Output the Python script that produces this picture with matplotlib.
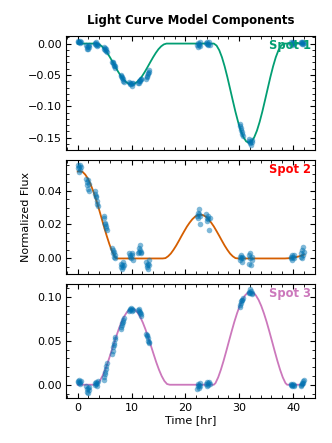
import numpy as np
import matplotlib.pyplot as plt
from matplotlib.ticker import AutoMinorLocator

# observation times [hr], 15 short visits of 7 samples
obs_t = [0.0, 0.1, 0.2, 0.3, 0.4, 0.5, 0.6,
         1.55, 1.65, 1.75, 1.85, 1.95, 2.05, 2.15,
         3.15, 3.25, 3.35, 3.45, 3.55, 3.65, 3.75,
         4.8, 4.9, 5.0, 5.1, 5.2, 5.3, 5.4,
         6.4, 6.5, 6.6, 6.7, 6.8, 6.9, 7.0,
         8.0, 8.1, 8.2, 8.3, 8.4, 8.5, 8.6,
         9.6, 9.7, 9.8, 9.9, 10.0, 10.1, 10.2,
         11.2, 11.3, 11.4, 11.5, 11.6, 11.7, 11.8,
         12.7, 12.8, 12.9, 13.0, 13.1, 13.2, 13.3,
         22.2, 22.3, 22.4, 22.5, 22.6, 22.7, 22.8,
         23.9, 24.0, 24.1, 24.2, 24.3, 24.4, 24.5,
         30.1, 30.2, 30.3, 30.4, 30.5, 30.6, 30.7,
         31.8, 31.9, 32.0, 32.1, 32.2, 32.3, 32.4,
         39.6, 39.7, 39.8, 39.9, 40.0, 40.1, 40.2,
         41.4, 41.5, 41.6, 41.7, 41.8, 41.9, 42.0]

obs_spot1 = [0.003, 0.004, 0.002, 0.003, 0.001, 0.004, 0.002,
             -0.003, -0.006, -0.009, -0.004, -0.008, -0.005, -0.002,
             0.001, -0.001, 0.002, -0.002, 0.000, -0.004, -0.003,
             -0.006, -0.008, -0.007, -0.010, -0.009, -0.012, -0.013,
             -0.029, -0.031, -0.030, -0.034, -0.036, -0.035, -0.039,
             -0.050, -0.052, -0.055, -0.054, -0.057, -0.059, -0.061,
             -0.061, -0.063, -0.065, -0.064, -0.067, -0.063, -0.062,
             -0.063, -0.060, -0.062, -0.058, -0.059, -0.056, -0.057,
             -0.057, -0.054, -0.052, -0.049, -0.047, -0.045, -0.042,
             -0.003, -0.006, 0.001, -0.002, 0.000, -0.004, 0.002,
             0.001, -0.001, 0.002, -0.003, 0.000, 0.002, -0.002,
             -0.128, -0.132, -0.135, -0.138, -0.141, -0.144, -0.148,
             -0.152, -0.155, -0.158, -0.157, -0.161, -0.156, -0.153,
             0.002, 0.000, 0.001, -0.002, 0.002, 0.000, 0.001,
             0.001, 0.003, -0.001, 0.002, 0.000, 0.003, 0.001]

obs_spot2 = [0.055, 0.053, 0.051, 0.054, 0.055, 0.052, 0.054,
             0.047, 0.045, 0.043, 0.046, 0.041, 0.044, 0.040,
             0.040, 0.038, 0.036, 0.037, 0.034, 0.032, 0.031,
             0.025, 0.024, 0.021, 0.020, 0.019, 0.018, 0.017,
             0.006, 0.005, 0.003, 0.004, 0.001, 0.002, 0.000,
             -0.003, -0.005, -0.006, -0.004, -0.002, -0.005, -0.004,
             0.003, 0.001, 0.002, 0.000, 0.003, 0.002, -0.001,
             0.003, 0.004, 0.006, 0.008, 0.005, 0.003, 0.004,
             -0.002, -0.004, -0.005, -0.006, -0.003, -0.004, -0.001,
             0.025, 0.027, 0.024, 0.029, 0.026, 0.020, 0.025,
             0.026, 0.024, 0.022, 0.025, 0.023, 0.017, 0.024,
             0.001, -0.001, 0.002, 0.000, -0.002, 0.001, 0.000,
             0.002, -0.003, 0.000, 0.003, -0.004, 0.001, -0.001,
             0.001, 0.000, 0.002, -0.001, 0.001, 0.002, 0.000,
             0.001, 0.003, 0.000, 0.005, 0.002, 0.007, 0.004]

obs_spot3 = [0.004, 0.003, 0.005, 0.002, 0.003, 0.001, 0.004,
             -0.002, -0.005, -0.008, -0.004, -0.009, -0.006, -0.003,
             0.000, 0.002, 0.001, 0.003, -0.001, 0.002, 0.004,
             0.005, 0.009, 0.012, 0.015, 0.018, 0.021, 0.025,
             0.035, 0.038, 0.043, 0.045, 0.048, 0.052, 0.054,
             0.064, 0.066, 0.068, 0.070, 0.072, 0.074, 0.076,
             0.084, 0.086, 0.085, 0.087, 0.086, 0.084, 0.085,
             0.085, 0.084, 0.086, 0.082, 0.083, 0.080, 0.078,
             0.058, 0.057, 0.055, 0.053, 0.050, 0.049, 0.047,
             -0.005, -0.002, 0.001, -0.004, 0.000, 0.002, -0.001,
             0.001, 0.003, -0.001, 0.002, 0.000, 0.003, 0.001,
             0.089, 0.091, 0.093, 0.095, 0.096, 0.097, 0.099,
             0.104, 0.106, 0.109, 0.105, 0.107, 0.104, 0.103,
             0.000, 0.001, -0.001, 0.000, 0.001, -0.002, 0.000,
             0.000, -0.001, 0.002, 0.001, 0.004, 0.002, 0.005]

# model curves
model1_t = [0.0, 3.5, 4.0, 4.5, 5.0, 5.5, 6.0, 6.5, 7.0, 7.5, 8.0, 8.5, 9.0, 9.5,
            10.0, 10.5, 11.0, 11.5, 12.0, 12.5, 13.0, 13.5, 14.0, 14.5, 15.0,
            15.5, 16.0, 16.5,
            25.3, 25.8, 26.3, 26.8, 27.3, 27.8, 28.3, 28.8, 29.3, 29.8, 30.3,
            30.8, 31.3, 31.8, 32.3, 32.8, 33.3, 33.8, 34.3, 34.8, 35.3, 35.8,
            36.3, 36.8, 37.3, 37.8, 38.3, 42.0]
model1_f = [0.0, 0.0, -0.0013, -0.0044, -0.0090, -0.0150, -0.0219, -0.0294,
            -0.0371, -0.0446, -0.0514, -0.0571, -0.0614, -0.0641, -0.0650,
            -0.0641, -0.0614, -0.0571, -0.0514, -0.0446, -0.0371, -0.0294,
            -0.0219, -0.0150, -0.0090, -0.0044, -0.0013, 0.0,
            0.0, -0.0032, -0.0106, -0.0218, -0.0363, -0.0532, -0.0716, -0.0902,
            -0.1084, -0.1248, -0.1387, -0.1492, -0.1558, -0.1580, -0.1558,
            -0.1492, -0.1387, -0.1248, -0.1084, -0.0902, -0.0716, -0.0532,
            -0.0363, -0.0218, -0.0106, -0.0032, 0.0, 0.0]

model2_t = [0.0, 0.4, 0.9, 1.4, 1.9, 2.4, 2.9, 3.4, 3.9, 4.4, 4.9, 5.4, 5.9,
            6.4, 6.9, 7.2,
            15.8, 16.3, 16.8, 17.3, 17.8, 18.3, 18.8, 19.3, 19.8, 20.3, 20.8,
            21.3, 21.8, 22.3, 22.8, 23.3, 23.8, 24.3, 24.8, 25.3, 25.8, 26.3,
            26.8, 27.3, 27.8, 28.3, 28.8, 29.3, 29.8,
            38.5, 39.5, 40.5, 41.5, 42.0]
model2_f = [0.0512, 0.0515, 0.0510, 0.0494, 0.0470, 0.0436, 0.0395, 0.0348,
            0.0296, 0.0241, 0.0185, 0.0132, 0.0083, 0.0041, 0.0009, 0.0,
            0.0, 0.0002, 0.0013, 0.0029, 0.0051, 0.0076, 0.0104, 0.0133,
            0.0161, 0.0188, 0.0211, 0.0231, 0.0246, 0.0255, 0.0258, 0.0255,
            0.0246, 0.0231, 0.0211, 0.0188, 0.0161, 0.0133, 0.0104, 0.0076,
            0.0051, 0.0029, 0.0013, 0.0002, 0.0,
            0.0, 0.0002, 0.0007, 0.0016, 0.0022]

model3_t = [0.0, 3.1, 3.6, 4.1, 4.6, 5.1, 5.6, 6.1, 6.6, 7.1, 7.6, 8.1, 8.6,
            9.1, 9.6, 10.1, 10.6, 11.1, 11.6, 12.1, 12.6, 13.1, 13.6, 14.1,
            14.6, 15.1, 15.6, 16.1, 16.6, 17.1,
            25.3, 25.6, 26.1, 26.6, 27.1, 27.6, 28.1, 28.6, 29.1, 29.6, 30.1,
            30.6, 31.1, 31.6, 32.1, 32.6, 33.1, 33.6, 34.1, 34.6, 35.1, 35.6,
            36.1, 36.6, 37.1, 37.6, 38.1, 38.6, 38.9, 42.0]
model3_f = [0.0, 0.0, 0.0008, 0.0043, 0.0099, 0.0171, 0.0255, 0.0349, 0.0445,
            0.0539, 0.0629, 0.0708, 0.0774, 0.0823, 0.0855, 0.0865, 0.0855,
            0.0823, 0.0774, 0.0708, 0.0629, 0.0539, 0.0445, 0.0349, 0.0255,
            0.0171, 0.0099, 0.0043, 0.0008, 0.0,
            0.0, 0.0019, 0.0084, 0.0171, 0.0272, 0.0382, 0.0496, 0.0608,
            0.0716, 0.0813, 0.0898, 0.0967, 0.1018, 0.1049, 0.1060, 0.1049,
            0.1018, 0.0967, 0.0898, 0.0813, 0.0716, 0.0608, 0.0496, 0.0382,
            0.0272, 0.0171, 0.0084, 0.0019, 0.0, 0.0]

labels = ["Spot 1", "Spot 2", "Spot 3"]
line_colors = ["#029E73", "#D55E00", "#CC78BC"]
label_colors = ["#029E73", "#FF0000", "#CC78BC"]
point_color = "#0173B2"

fig, axes = plt.subplots(3, 1, sharex=True, figsize=(3.32, 4.43), dpi=100)
fig.subplots_adjust(left=0.200, right=0.949, top=0.919, bottom=0.102, hspace=0.088)

obs = [obs_spot1, obs_spot2, obs_spot3]
models = [(model1_t, model1_f), (model2_t, model2_f), (model3_t, model3_f)]

for i, ax in enumerate(axes):
    ax.scatter(obs_t, obs[i], s=16, color=point_color, alpha=0.5, linewidths=0, zorder=3)
    ax.plot(models[i][0], models[i][1], color=line_colors[i], lw=1.3, zorder=2)
    ax.text(0.985, 0.97, labels[i], transform=ax.transAxes, ha="right", va="top",
            color=label_colors[i], fontsize=8.3, fontweight="bold", zorder=4)
    ax.xaxis.set_minor_locator(AutoMinorLocator())
    ax.yaxis.set_minor_locator(AutoMinorLocator())
    ax.tick_params(which="both", direction="in", top=True, right=True, labelsize=8)

axes[0].set_title("Light Curve Model Components", fontsize=8.5, fontweight="bold", pad=8.5)
axes[1].set_ylabel("Normalized Flux", fontsize=8)
axes[2].set_xlabel("Time [hr]", fontsize=8, labelpad=2)
axes[2].set_xticks([0, 10, 20, 30, 40])

fig.savefig("out.png", dpi=100)
